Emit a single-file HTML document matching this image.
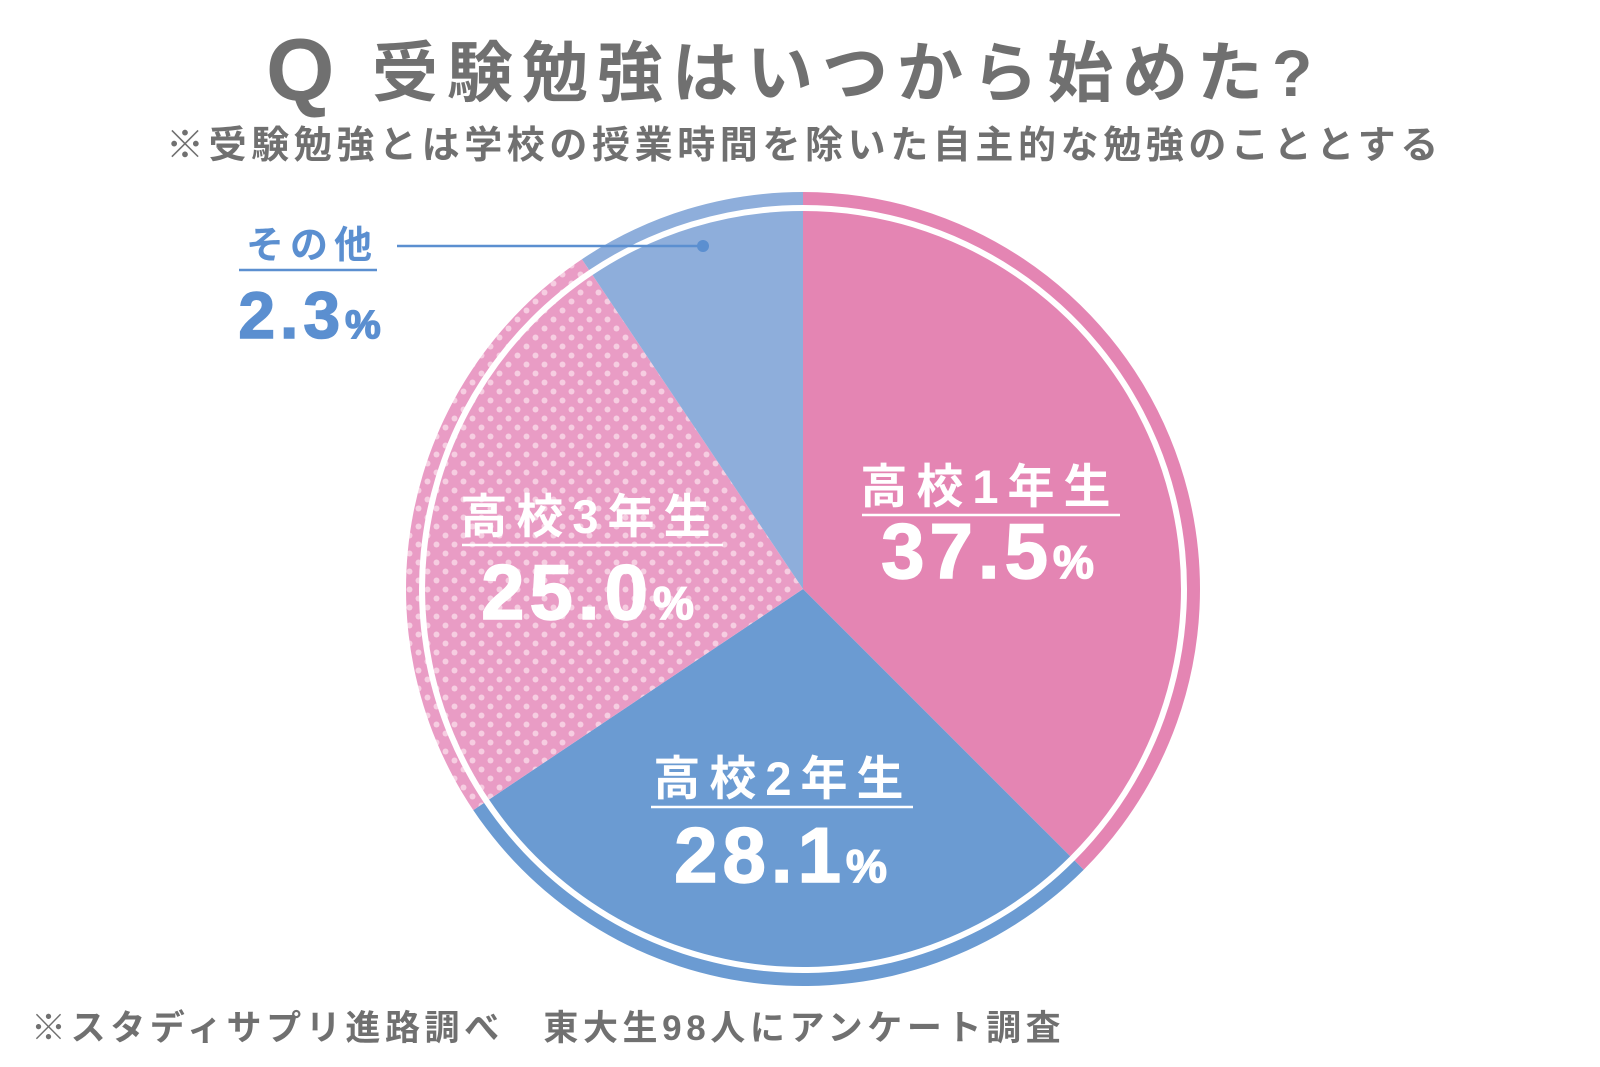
<!DOCTYPE html>
<html><head><meta charset="utf-8">
<style>
html,body{margin:0;padding:0;background:#fff;}
body{width:1600px;height:1067px;overflow:hidden;position:relative;font-family:"Liberation Sans","Noto Sans CJK JP",sans-serif;}
svg{position:absolute;left:0;top:0;}
</style></head>
<body>
<svg id="chart" width="1600" height="1067" viewBox="0 0 1600 1067">
<defs>
<pattern id="dots" width="18" height="18" patternUnits="userSpaceOnUse">
<rect width="18" height="18" fill="#e99cc5"/>
<circle cx="4.5" cy="4.5" r="3" fill="#f6cde1"/>
<circle cx="13.5" cy="13.5" r="3" fill="#f6cde1"/>
</pattern>
</defs>
<g>
<text x="266" y="100" font-size="88" font-weight="bold" fill="#707070" font-family="Liberation Sans, sans-serif">Q</text>
<text x="372" y="96" font-size="66" font-weight="bold" fill="#707070" letter-spacing="9" font-family="Liberation Sans, Noto Sans CJK JP, sans-serif">受験勉強はいつから始めた?</text>
</g>
<text x="166" y="158" font-size="38" font-weight="bold" fill="#707070" letter-spacing="4.6" font-family="Liberation Sans, Noto Sans CJK JP, sans-serif">※受験勉強とは学校の授業時間を除いた自主的な勉強のこととする</text>
<g id="slices"></g>
<g id="labels"></g>
<text x="31" y="1040" font-size="35" font-weight="bold" fill="#707070" letter-spacing="4.6" font-family="Liberation Sans, Noto Sans CJK JP, sans-serif">※スタディサプリ進路調べ　東大生98人にアンケート調査</text>
</svg>
<script>
const categories = ["高校1年生", "高校2年生", "高校3年生", "その他"];
const values = [37.5, 28.1, 25.0, 9.4];
const printedValues = ["37.5", "28.1", "25.0", "2.3"];
const fills = ["#e485b3", "#6b9bd2", "url(#dots)", "#8eaedb"];

const NS = "http://www.w3.org/2000/svg";
const cx = 803, cy = 589, rOuter = 397, ringW = 13, gap = 6;
const rInner = rOuter - ringW - gap;
function pt(r, pct){ const a = pct/100*2*Math.PI; return [cx + r*Math.sin(a), cy - r*Math.cos(a)]; }
function sector(r0, r1, p0, p1){
  const large = (p1-p0) > 50 ? 1 : 0;
  const [a,b] = pt(r1,p0), [c,d] = pt(r1,p1);
  if (r0 === 0) return `M${cx},${cy}L${a},${b}A${r1},${r1} 0 ${large} 1 ${c},${d}Z`;
  const [e,f] = pt(r0,p1), [g,h] = pt(r0,p0);
  return `M${a},${b}A${r1},${r1} 0 ${large} 1 ${c},${d}L${e},${f}A${r0},${r0} 0 ${large} 0 ${g},${h}Z`;
}
const gS = document.getElementById('slices');
let cum = 0;
values.forEach((v,i)=>{
  const p0 = cum, p1 = (i === values.length-1) ? 100 : cum + v;
  const ring = document.createElementNS(NS,'path');
  ring.setAttribute('d', sector(rOuter-ringW, rOuter, p0, p1));
  ring.setAttribute('fill', fills[i]);
  
  
  gS.appendChild(ring);
  const s = document.createElementNS(NS,'path');
  s.setAttribute('d', sector(0, rInner, p0, p1));
  s.setAttribute('fill', fills[i]);
  
  
  gS.appendChild(s);
  cum = p1;
});

const gL = document.getElementById('labels');
const labelPos = [[990,503,862,1120,578,"#fff"],[783,795,651,913,882,"#fff"],[590,533,462,723,619,"#fff"],[312,258,239,377,338,"#5b8fd0"]];
function txt(parent, x, y, s, size, color, name){
  const t = document.createElementNS(NS,'text');
  t.setAttribute('x', x); t.setAttribute('y', y);
  t.setAttribute('text-anchor','middle');
  t.setAttribute('font-size', size);
  t.setAttribute('font-weight','bold');
  t.setAttribute('fill', color);
  t.setAttribute('font-family','Liberation Sans, Noto Sans CJK JP, sans-serif');
  t.textContent = s;
  
  
  parent.appendChild(t);
  return t;
}
categories.forEach((c,i)=>{
  const [x,y,ux0,ux1,vy,col] = labelPos[i];
  const small = i === 3;
  const t = txt(gL, x, y, c, small ? 38 : 47, col, 'category-label');
  t.setAttribute('letter-spacing', small ? 6 : 9);
  const ln = document.createElementNS(NS,'line');
  ln.setAttribute('x1', ux0); ln.setAttribute('x2', ux1);
  ln.setAttribute('y1', y+12); ln.setAttribute('y2', y+12);
  ln.setAttribute('stroke', col); ln.setAttribute('stroke-width', 2.5);
  
  
  gL.appendChild(ln);
  const v = txt(gL, x, vy, '', small ? 66 : 78, col, 'value-label');
  v.setAttribute('letter-spacing', 5);
  v.setAttribute('stroke', col);
  v.setAttribute('stroke-width', 1.5);
  const n = document.createElementNS(NS,'tspan'); n.textContent = printedValues[i];
  const pc = document.createElementNS(NS,'tspan'); pc.textContent = '%';
  pc.setAttribute('font-size', small ? 40 : 46);
  v.appendChild(n); v.appendChild(pc);
});
const lead = document.createElementNS(NS,'line');
lead.setAttribute('x1', 397); lead.setAttribute('x2', 703);
lead.setAttribute('y1', 246); lead.setAttribute('y2', 246);
lead.setAttribute('stroke', '#5b8fd0'); lead.setAttribute('stroke-width', 2.5);


gL.appendChild(lead);
const dot = document.createElementNS(NS,'circle');
dot.setAttribute('cx', 703); dot.setAttribute('cy', 246); dot.setAttribute('r', 6);
dot.setAttribute('fill', '#5b8fd0');


gL.appendChild(dot);
</script>
</body></html>
